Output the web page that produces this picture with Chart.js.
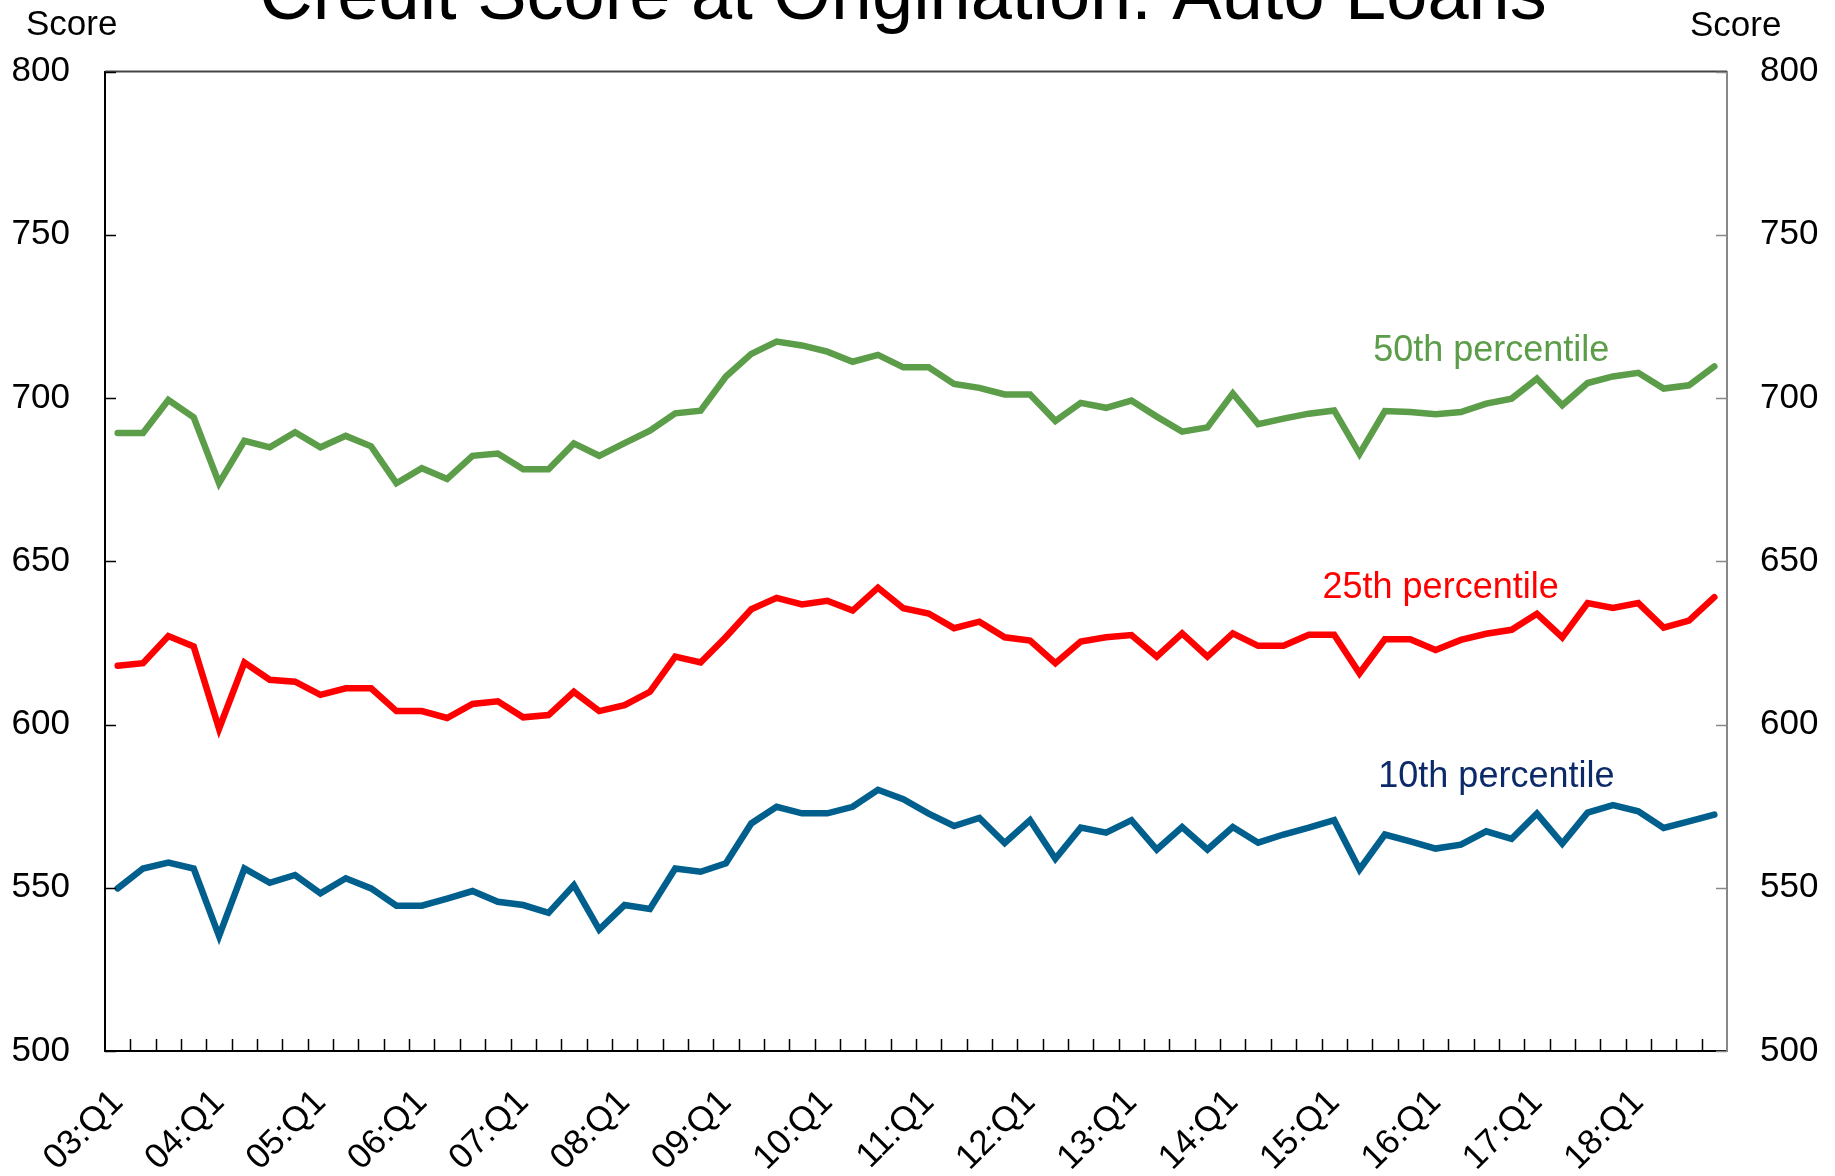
<!DOCTYPE html>
<html>
<head>
<meta charset="utf-8">
<script src="https://cdn.jsdelivr.net/npm/chart.js@4.4.1/dist/chart.umd.min.js"></script>
<style>
  html, body { margin: 0; padding: 0; background: #fff; }
  canvas { display: block; }
</style>
</head>
<body>
<canvas id="chart" width="1835" height="1176"></canvas>
<script>
/* ─── Credit score at origination: auto loans ─── */

const quarters = [
    '03:Q1', '03:Q2', '03:Q3', '03:Q4', '04:Q1', '04:Q2', '04:Q3', '04:Q4',
    '05:Q1', '05:Q2', '05:Q3', '05:Q4', '06:Q1', '06:Q2', '06:Q3', '06:Q4',
    '07:Q1', '07:Q2', '07:Q3', '07:Q4', '08:Q1', '08:Q2', '08:Q3', '08:Q4',
    '09:Q1', '09:Q2', '09:Q3', '09:Q4', '10:Q1', '10:Q2', '10:Q3', '10:Q4',
    '11:Q1', '11:Q2', '11:Q3', '11:Q4', '12:Q1', '12:Q2', '12:Q3', '12:Q4',
    '13:Q1', '13:Q2', '13:Q3', '13:Q4', '14:Q1', '14:Q2', '14:Q3', '14:Q4',
    '15:Q1', '15:Q2', '15:Q3', '15:Q4', '16:Q1', '16:Q2', '16:Q3', '16:Q4',
    '17:Q1', '17:Q2', '17:Q3', '17:Q4', '18:Q1', '18:Q2', '18:Q3', '18:Q4'
];

const p50 = [
    689.3, 689.3, 699.4, 694.1, 673.9, 686.9, 684.9, 689.5, 684.9, 688.4,
    685.2, 673.9, 678.5, 675.2, 682.3, 683.0, 678.2, 678.2, 686.1, 682.3,
    686.2, 690.0, 695.3, 696.1, 706.6, 713.5, 717.3, 716.1, 714.2, 711.1,
    713.2, 709.4, 709.4, 704.3, 703.1, 701.1, 701.1, 693.0, 698.5, 697.0,
    699.2, 694.3, 689.7, 691.0, 701.4, 692.0, 693.7, 695.2, 696.2, 682.9,
    696.0, 695.7, 695.0, 695.7, 698.3, 699.8, 705.9, 697.8, 704.6, 706.6,
    707.7, 702.9, 703.9, 709.7
];

const p25 = [
    618.0, 618.8, 627.1, 623.9, 598.7, 619.0, 613.7, 613.1, 609.1, 611.1,
    611.1, 604.1, 604.1, 602.0, 606.3, 607.1, 602.2, 602.9, 610.0, 604.1,
    605.9, 610.0, 620.8, 619.0, 626.8, 635.3, 638.8, 636.8, 637.9, 634.9,
    641.9, 635.6, 634.0, 629.5, 631.5, 626.7, 625.7, 618.8, 625.4, 626.7,
    627.4, 620.8, 627.9, 620.8, 627.9, 624.1, 624.1, 627.5, 627.5, 615.7,
    626.1, 626.1, 622.8, 625.9, 627.8, 629.0, 633.9, 626.7, 637.2, 635.7,
    637.2, 629.7, 631.8, 639.0
];

const p10 = [
    549.8, 555.9, 557.7, 555.9, 535.2, 555.9, 551.5, 553.9, 548.3, 552.9,
    549.8, 544.5, 544.5, 546.7, 549.0, 545.7, 544.7, 542.3, 550.8, 537.2,
    544.7, 543.5, 555.9, 554.9, 557.5, 569.7, 574.8, 572.8, 572.8, 574.8,
    580.0, 577.1, 572.7, 568.9, 571.4, 563.7, 570.7, 558.9, 568.4, 566.9,
    570.7, 561.7, 568.6, 561.7, 568.6, 563.8, 566.3, 568.4, 570.7, 555.6,
    566.3, 564.2, 562.0, 563.2, 567.3, 565.0, 572.7, 563.5, 573.0, 575.3,
    573.4, 568.3, 570.3, 572.4
];

// series label text, anchored at (category index, score)
const seriesLabels = ['50th percentile', '25th percentile', '10th percentile'];
const labelAt = [[54.2, 711.4], [52.2, 638.8], [54.4, 580.9]];

const yTicks = [500, 550, 600, 650, 700, 750, 800];

const GREEN = '#5b9d49';
const RED = '#ff0000';
const BLUE = '#005f8c';
const NAVY = '#0c2a6a';
const FONT = '"Liberation Sans", Arial, sans-serif';

/* inward tick marks + top frame line */
const frame = {
    id: 'frame',
    afterDatasetsDraw(chart) {
        const { ctx, chartArea: a, scales: { x, y } } = chart;
        ctx.save();
        ctx.lineWidth = 2;
        ctx.strokeStyle = '#444';
        ctx.beginPath();
        ctx.moveTo(a.left, a.top);
        ctx.lineTo(a.right, a.top);
        ctx.stroke();

        ctx.strokeStyle = '#000';
        ctx.lineWidth = 1.5;
        ctx.beginPath();
        for (let i = 1; i < quarters.length; i++) {
            const px = Math.round(x.getPixelForValue(i - 0.5)) + 0.5;
            ctx.moveTo(px, a.bottom);
            ctx.lineTo(px, a.bottom - 12);
        }
        ctx.stroke();

        for (const v of yTicks) {
            const py = Math.round(y.getPixelForValue(v)) + 0.5;
            ctx.strokeStyle = '#000';
            ctx.beginPath();
            ctx.moveTo(a.left, py);
            ctx.lineTo(a.left + 11, py);
            ctx.stroke();
            ctx.strokeStyle = '#888';
            ctx.beginPath();
            ctx.moveTo(a.right - 11, py);
            ctx.lineTo(a.right, py);
            ctx.stroke();
        }
        ctx.restore();
    }
};

/* title, axis captions and series labels */
const texts = {
    id: 'texts',
    afterDraw(chart) {
        const { ctx, scales: { x, y } } = chart;
        ctx.save();
        ctx.fillStyle = '#000';
        ctx.textBaseline = 'alphabetic';
        ctx.textAlign = 'center';
        ctx.font = `74px ${FONT}`;
        ctx.fillText('Credit Score at Origination: Auto Loans', 903, 19);

        ctx.font = `35px ${FONT}`;
        ctx.textAlign = 'left';
        ctx.fillText('Score', 26, 35);
        ctx.fillText('Score', 1690, 36);

        const colors = [GREEN, RED, NAVY];
        ctx.font = `36px ${FONT}`;
        ctx.textAlign = 'center';
        seriesLabels.forEach((t, i) => {
            ctx.fillStyle = colors[i];
            ctx.fillText(t, x.getPixelForValue(labelAt[i][0]), y.getPixelForValue(labelAt[i][1]));
        });
        ctx.restore();
    }
};

const lineStyle = (data, color) => ({
    data,
    borderColor: color,
    backgroundColor: color,
    borderWidth: 6.5,
    pointRadius: 0,
    tension: 0,
    fill: false,
    borderCapStyle: 'round',
    borderJoinStyle: 'miter',
});

const yAxis = (position, color) => ({
    type: 'linear',
    position,
    min: 500,
    max: 800,
    afterBuildTicks: (s) => { s.ticks = yTicks.map(v => ({ value: v })); },
    afterFit: (s) => { s.width = position === 'left' ? 105 : 108; },
    grid: { display: false, drawTicks: false },
    border: { display: true, color, width: 2 },
    ticks: {
        color: '#000',
        padding: position === 'left' ? 35 : 33,
        font: { size: 35, family: FONT },
    },
});

new Chart(document.getElementById('chart'), {
    type: 'line',
    data: {
        labels: quarters,
        datasets: [
            lineStyle(p50, GREEN),
            lineStyle(p25, RED),
            lineStyle(p10, BLUE),
        ]
    },
    options: {
        animation: false,
        responsive: false,
        devicePixelRatio: 1,
        layout: { padding: { top: 71.5, left: 0, right: 0, bottom: 0 } },
        plugins: {
            legend: { display: false },
            tooltip: { enabled: false },
            title: { display: false },
        },
        scales: {
            x: {
                type: 'category',
                offset: true,
                afterFit: (s) => { s.height = 125; },
                grid: { display: false, drawTicks: false },
                border: { display: true, color: '#000', width: 2 },
                ticks: {
                    autoSkip: false,
                    minRotation: 45,
                    maxRotation: 45,
                    padding: 31,
                    color: '#000',
                    font: { size: 35, family: FONT },
                    callback: (v, i) => (i % 4 === 0 ? quarters[i] : ''),
                },
            },
            y: yAxis('left', '#000'),
            y2: yAxis('right', '#888'),
        }
    },
    plugins: [frame, texts]
});
</script>
</body>
</html>
